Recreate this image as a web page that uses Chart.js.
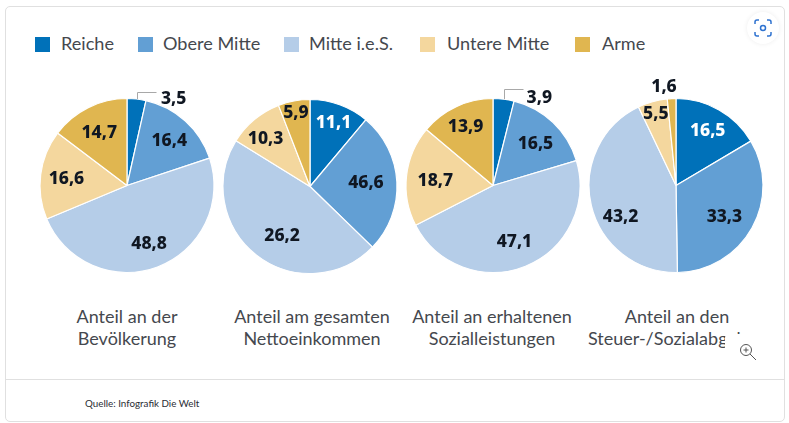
<!DOCTYPE html>
<html lang="de">
<head>
<meta charset="utf-8">
<title>Anteile nach Einkommensgruppen</title>
<script src="https://cdn.jsdelivr.net/npm/chart.js@4"></script>
<style>
    html, body { margin: 0; padding: 0; background: #fff; }
    body { width: 789px; height: 423px; position: relative; overflow: hidden; font-family: Lato, sans-serif; color: #45484e; }
    .card { position: absolute; left: 5px; top: 6px; width: 778px; height: 414px; border: 1px solid #e0e0e0; border-radius: 5px; }
    .divider { position: absolute; left: 6px; top: 379px; width: 778px; height: 1px; background: #e0e0e0; }
    canvas { position: absolute; }
    .swatch { position: absolute; top: 37px; width: 15px; height: 15px; }
    .legend-text { position: absolute; top: 31px; font-size: 18.1px; line-height: 24px; white-space: nowrap; }
    .pie-title { position: absolute; top: 305px; width: 182px; font-size: 18px; line-height: 22px; text-align: center; white-space: nowrap; }
    .source { position: absolute; left: 85px; top: 396.5px; font-size: 9.8px; line-height: 12px; color: #2a2d34; }
    .zoom-btn { position: absolute; left: 725px; top: 334px; width: 45px; height: 42px; background: #fff; border-radius: 4px; }
    .zoom-btn svg { position: absolute; left: 14px; top: 9px; }
    .shot-btn { position: absolute; left: 747px; top: 12px; width: 32px; height: 32px; background: #fff; border-radius: 50%; box-shadow: 0 0 5px rgba(0,0,0,0.07); }
    .shot-btn svg { position: absolute; left: 7px; top: 7px; }
</style>
</head>
<body>
<div class="card"></div>
<div class="divider"></div>
<div id="legend"></div>
<div id="pies"></div>
<div class="source">Quelle: Infografik Die Welt</div>
<div class="zoom-btn">
    <svg width="18" height="18" viewBox="0 0 18 18" fill="none" stroke="#555" stroke-width="1">
        <circle cx="7" cy="7" r="5.5"/><path d="M7 4.5v5M4.5 7h5M11 11l6 6"/>
    </svg>
</div>
<div class="shot-btn">
    <svg width="18" height="18" viewBox="0 0 18 18" fill="none" stroke="#2f73d0" stroke-width="1.5">
        <path d="M1 5V3a2 2 0 0 1 2-2h2M13 1h2a2 2 0 0 1 2 2v2M17 13v2a2 2 0 0 1-2 2h-2M5 17H3a2 2 0 0 1-2-2v-2"/>
        <circle cx="9" cy="9" r="2.5"/>
    </svg>
</div>

<script>
const categories = ['Reiche', 'Obere Mitte', 'Mitte i.e.S.', 'Untere Mitte', 'Arme'];
const colors = ['#0071b9', '#629fd4', '#b5cde8', '#f4d79e', '#e0b650'];

const titles = [
    ['Anteil an der', 'Bevölkerung'],
    ['Anteil am gesamten', 'Nettoeinkommen'],
    ['Anteil an erhaltenen', 'Sozialleistungen'],
    ['Anteil an den', 'Steuer-/Sozialabgaben']
];

const bevoelkerung = [3.5, 16.4, 48.8, 16.6, 14.7];
// the source draws the 26,2 wedge for Obere Mitte but prints 46,6 on it (and the other way round)
const nettoeinkommen = [11.1, 26.2, 46.6, 10.3, 5.9];
const nettoPrinted = [11.1, 46.6, 26.2, 10.3, 5.9];
const sozialleistungen = [3.9, 16.5, 47.1, 18.7, 13.9];
const abgaben = [16.5, 33.3, 43.2, 5.5, 1.6];

// layout only
const legendX = [[35, 61], [138, 163], [284, 309], [420, 447], [575, 602]];
const pieLayout = [
    { left: 36, top: 70, titleShift: 0 },
    { left: 219, top: 71, titleShift: 2 },
    { left: 402, top: 70, titleShift: -1 },
    { left: 585, top: 70, titleShift: 1 }
];
const labelNudges = [
    [[40, -27], [2, 0], [1, 2], [-1, 1], [-1, 1]],
    [[3, -7], [-4, 0], [9, 2], [-6, -1], [-3, -14]],
    [[39, -28], [1, 2], [-1, 1], [2, 2], [-2, -4]],
    [[2, -2], [-4, 2], [3, 18], [-4, -14], [-9, -39]]
];
const leaderRise = [7, 0, 10, 0];
const whiteLabels = [[], [0], [], [0]];

const pieValues = [bevoelkerung, nettoeinkommen, sozialleistungen, abgaben];
const pieLabels = [bevoelkerung, nettoPrinted, sozialleistungen, abgaben];

// Writes the printed values on the wedges, plus the small bracket for the thin Reiche wedge
const sliceLabels = {
    id: 'sliceLabels',
    afterDatasetsDraw(chart, args, opts) {
        const ctx = chart.ctx;
        const arcs = chart.getDatasetMeta(0).data;
        ctx.save();
        ctx.font = '800 17.5px "Noto Sans"';
        ctx.textAlign = 'center';
        ctx.textBaseline = 'middle';
        arcs.forEach((arc, i) => {
            const mid = (arc.startAngle + arc.endAngle) / 2;
            const x = arc.x + Math.cos(mid) * arc.outerRadius * 0.69 + opts.nudges[i][0];
            const y = arc.y + Math.sin(mid) * arc.outerRadius * 0.69 + opts.nudges[i][1];
            ctx.fillStyle = opts.white.includes(i) ? '#ffffff' : '#101722';
            ctx.fillText(opts.texts[i].toFixed(1).replace('.', ','), x, y);
        });
        if (opts.rise) {
            const first = arcs[0];
            const mid = (first.startAngle + first.endAngle) / 2;
            const x0 = Math.round(first.x + Math.cos(mid) * first.outerRadius) + 0.5;
            const y0 = first.y + Math.sin(mid) * first.outerRadius;
            ctx.strokeStyle = '#a8a8a8';
            ctx.lineWidth = 1;
            ctx.beginPath();
            ctx.moveTo(x0, y0);
            ctx.lineTo(x0, Math.round(y0 - opts.rise) + 0.5);
            ctx.lineTo(x0 + 19, Math.round(y0 - opts.rise) + 0.5);
            ctx.stroke();
        }
        ctx.restore();
    }
};

function buildLegend() {
    const legend = document.getElementById('legend');
    categories.forEach((name, i) => {
        legend.insertAdjacentHTML('beforeend',
            `<div class="swatch" style="left:${legendX[i][0]}px;background:${colors[i]}"></div>` +
            `<div class="legend-text" style="left:${legendX[i][1]}px">${name}</div>`);
    });
}

function buildPie(index) {
    const holder = document.getElementById('pies');
    const layout = pieLayout[index];

    const canvas = document.createElement('canvas');
    canvas.width = 182;
    canvas.height = 231;
    canvas.style.left = layout.left + 'px';
    canvas.style.top = layout.top + 'px';
    holder.appendChild(canvas);

    const title = document.createElement('div');
    title.className = 'pie-title';
    title.style.left = (layout.left + layout.titleShift) + 'px';
    title.innerHTML = titles[index].join('<br>');
    holder.appendChild(title);

    new Chart(canvas.getContext('2d'), {
        type: 'pie',
        data: {
            labels: categories,
            datasets: [{
                data: pieValues[index],
                backgroundColor: colors,
                borderColor: '#ffffff',
                borderWidth: 1.2,
                radius: 87
            }]
        },
        options: {
            responsive: false,
            animation: false,
            events: [],
            layout: { padding: 0 },
            plugins: {
                legend: { display: false },
                tooltip: { enabled: false },
                sliceLabels: {
                    texts: pieLabels[index],
                    nudges: labelNudges[index],
                    white: whiteLabels[index],
                    rise: leaderRise[index]
                }
            }
        },
        plugins: [sliceLabels]
    });
}

buildLegend();
pieValues.forEach((_, i) => buildPie(i));
</script>
</body>
</html>
